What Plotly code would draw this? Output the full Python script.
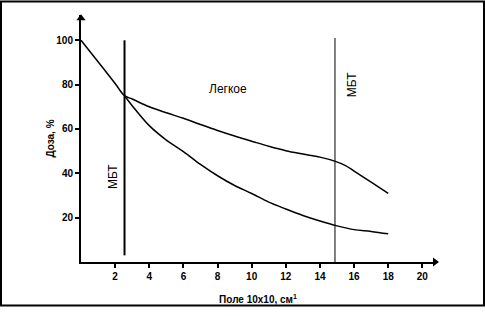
import plotly.graph_objects as go

# Data
x_upper = [0, 1, 2, 2.55, 3, 4, 5, 6, 7, 8, 9, 10, 11, 12, 13, 14, 14.9, 15.5, 16, 17, 18]
y_upper = [100, 90.3, 80.5, 75, 73.5, 70, 67.3, 64.8, 62, 59.3, 56.8, 54.5, 52.2, 50.2, 48.7, 47.3, 45.4, 43.5, 41, 36, 31]
x_lower = [2.55, 3, 4, 5, 6, 7, 8, 9, 10, 11, 12, 13, 14, 15, 16, 17, 18]
y_lower = [75, 70.5, 61.5, 55, 49.8, 44, 38.9, 34.5, 30.9, 27, 23.9, 21, 18.5, 16.3, 14.6, 13.8, 12.7]

mbt_x = [2.55, 14.88]          # boundaries
mbt_y0 = [3, 0]
mbt_y1 = [100, 101]
mbt_w = [2, 1]

x_ticks = [2, 4, 6, 8, 10, 12, 14, 16, 18, 20]
y_ticks = [20, 40, 60, 80, 100]

W, H = 485, 316
ml, mr, mt, mb = 81, 50, 15, 46
pw, ph = W - ml - mr, H - mt - mb
xmax = 20.74
ymax = 111.4

fig = go.Figure()
fig.add_trace(go.Scatter(x=x_upper, y=y_upper, mode="lines", line=dict(color="black", width=1.5, shape="spline"), showlegend=False))
fig.add_trace(go.Scatter(x=x_lower, y=y_lower, mode="lines", line=dict(color="black", width=1.5, shape="spline"), showlegend=False))

# axis arrowheads
fig.add_trace(go.Scatter(x=[0, xmax], y=[ymax - 1.5, 0], mode="markers", cliponaxis=False, showlegend=False,
                         marker=dict(symbol=["triangle-up", "triangle-right"], size=8, color="black")))

for xv, y0, y1, w in zip(mbt_x, mbt_y0, mbt_y1, mbt_w):
    fig.add_shape(type="line", xref="x", yref="y", x0=xv, x1=xv, y0=y0, y1=y1, line=dict(color="black", width=w))

fnt = dict(family="Arial, Liberation Sans", color="black")
fig.add_annotation(x=8.6, y=78, text="Легкое", showarrow=False, font=dict(size=12, **fnt))
fig.add_annotation(x=1.87, y=38.7, text="МБТ", showarrow=False, textangle=-90, font=dict(size=12, **fnt))
fig.add_annotation(x=15.85, y=80, text="МБТ", showarrow=False, textangle=-90, font=dict(size=12, **fnt))

# outer frame
fig.add_shape(type="rect", xref="paper", yref="paper",
              x0=(-ml + 1) / pw, x1=(W - ml - 1) / pw, y0=(-mb + 1) / ph, y1=(H - mb - 1) / ph,
              line=dict(color="black", width=2), layer="above")

fig.update_layout(
    width=W, height=H, autosize=False, margin=dict(l=ml, r=mr, t=mt, b=mb),
    paper_bgcolor="white", plot_bgcolor="white",
    xaxis=dict(range=[0, xmax], tickvals=x_ticks, ticks="outside", ticklen=4, tickwidth=2, tickcolor="black",
               showline=True, linewidth=2, linecolor="black", showgrid=False, zeroline=False,
               tickfont=dict(size=10, weight="bold", **fnt),
               title=dict(text="Поле 10х10, см<sup>1</sup>", font=dict(size=10, weight="bold", **fnt), standoff=15)),
    yaxis=dict(range=[0, ymax], tickvals=y_ticks, ticks="outside", ticklen=4, tickwidth=2, tickcolor="black",
               showline=True, linewidth=2, linecolor="black", showgrid=False, zeroline=False,
               tickfont=dict(size=10, weight="bold", **fnt),
               title=dict(text="Доза, %", font=dict(size=10, weight="bold", **fnt), standoff=0)),
)
css = "margin:0;padding:0;width:485px;height:316px;overflow:hidden"
fig.write_html("out.html", config={"displayModeBar": False, "responsive": False},
               post_script=("document.documentElement.style.cssText='%s';"
                            "document.body.style.cssText='%s';") % (css, css))
